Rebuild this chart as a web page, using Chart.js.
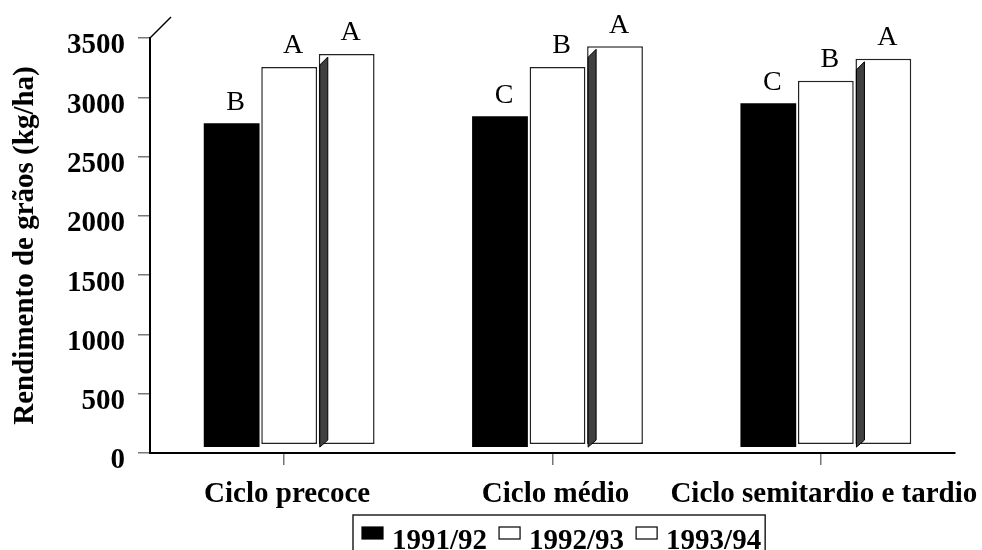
<!DOCTYPE html>
<html>
<head>
<meta charset="utf-8">
<script src="https://cdn.jsdelivr.net/npm/chart.js@4.4.1/dist/chart.umd.min.js"></script>
<style>
  html, body { margin: 0; padding: 0; background: #fff; }
  #wrap { width: 982px; height: 550px; }
</style>
</head>
<body>
<div id="wrap"><canvas id="chart"></canvas></div>
<script>
// values (kg/ha)
const categories = ['Ciclo precoce', 'Ciclo médio', 'Ciclo semitardio e tardio'];
const seasons = ['1991/92', '1992/93', '1993/94'];
const yield9192 = [2780, 2840, 2950];
const yield9293 = [3255, 3255, 3140];
const yield9394 = [3365, 3430, 3325];
// significance letters shown above the bars
const letters9192 = ['B', 'C', 'C'];
const letters9293 = ['A', 'B', 'B'];
const letters9394 = ['A', 'A', 'A'];
const yTicks = [0, 500, 1000, 1500, 2000, 2500, 3000, 3500];

const serif = '"Liberation Serif", "Times New Roman", serif';
Chart.defaults.font.family = serif;
Chart.defaults.color = '#000';

const letters = [letters9192, letters9293, letters9394];
const SHIFT = 5; // the old 3D chart sits a bit right of the ticks

// move the bars a few px right, like the original
const shiftBars = {
  id: 'shiftBars',
  afterDatasetsUpdate(chart) {
    chart.data.datasets.forEach((ds, i) => {
      chart.getDatasetMeta(i).data.forEach(bar => { bar.x += SHIFT; });
    });
  }
};

// dark side face on the last series + the back wall edge
const depthLook = {
  id: 'depthLook',
  afterDatasetsDraw(chart) {
    const ctx = chart.ctx;
    const area = chart.chartArea;
    ctx.save();
    chart.getDatasetMeta(2).data.forEach(bar => {
      const left = bar.x - bar.width / 2 + 1;
      const top = bar.y;
      const bottom = bar.base;
      ctx.beginPath();
      ctx.moveTo(left, top + 11);
      ctx.lineTo(left + 8, top + 3);
      ctx.lineTo(left + 8, bottom - 4);
      ctx.lineTo(left, bottom + 3);
      ctx.closePath();
      ctx.fillStyle = '#404040';
      ctx.fill();
      ctx.lineWidth = 1;
      ctx.strokeStyle = '#000';
      ctx.stroke();
    });

    ctx.beginPath();
    ctx.moveTo(area.left, area.top);
    ctx.lineTo(area.left + 21, area.top - 21);
    ctx.lineWidth = 1.5;
    ctx.strokeStyle = '#000';
    ctx.stroke();

    // letters
    ctx.font = '28px ' + serif;
    ctx.fillStyle = '#000';
    ctx.textAlign = 'center';
    ctx.textBaseline = 'middle';
    chart.data.datasets.forEach((ds, i) => {
      chart.getDatasetMeta(i).data.forEach((bar, j) => {
        ctx.fillText(letters[i][j], bar.x + 4, bar.y - 21);
      });
    });
    ctx.restore();
  }
};

// boxed legend under the axis, as in the figure
const boxLegend = {
  id: 'boxLegend',
  afterDraw(chart) {
    const ctx = chart.ctx;
    ctx.save();
    ctx.font = 'bold 29px ' + serif;
    ctx.textBaseline = 'alphabetic';
    ctx.textAlign = 'left';
    let x = 353;
    const top = 515;
    const start = x;
    x += 9;
    chart.data.datasets.forEach((ds, i) => {
      ctx.fillStyle = ds.backgroundColor;
      ctx.fillRect(x, 527, 21, 12);
      ctx.lineWidth = 1.2;
      ctx.strokeStyle = '#000';
      ctx.strokeRect(x, 527, 21, 12);
      x += 30;
      ctx.fillStyle = '#000';
      ctx.fillText(ds.label, x, 549);
      x += ctx.measureText(ds.label).width + 12;
    });
    const end = x - 8;
    ctx.lineWidth = 1.5;
    ctx.strokeStyle = '#222';
    ctx.strokeRect(start, top, end - start, 60);
    ctx.restore();
  }
};

const ctx = document.getElementById('chart');

new Chart(ctx, {
  type: 'bar',
  data: {
    labels: categories,
    datasets: [
      {
        label: seasons[0],
        data: yield9192,
        base: 50,
        backgroundColor: '#000',
        borderColor: '#000',
        borderWidth: 0,
        barPercentage: 0.97,
        categoryPercentage: 0.643
      },
      {
        label: seasons[1],
        data: yield9293,
        base: 75,
        backgroundColor: '#fff',
        borderColor: '#222',
        borderWidth: 1.5,
        borderSkipped: false,
        barPercentage: 0.97,
        categoryPercentage: 0.643
      },
      {
        label: seasons[2],
        data: yield9394,
        base: 75,
        backgroundColor: '#fff',
        borderColor: '#222',
        borderWidth: 1.5,
        borderSkipped: false,
        barPercentage: 0.97,
        categoryPercentage: 0.643
      }
    ]
  },
  options: {
    responsive: true,
    maintainAspectRatio: false,
    animation: false,
    layout: { padding: { top: 38, right: 27, left: 0, bottom: 0 } },
    plugins: {
      legend: { display: false },
      tooltip: { enabled: false }
    },
    scales: {
      x: {
        offset: true,
        grid: { offset: false, drawOnChartArea: false, tickLength: 12, color: '#777', lineWidth: 1.5 },
        border: { display: true, color: '#000', width: 2 },
        ticks: {
          color: '#000',
          font: { size: 29, weight: 'bold' },
          maxRotation: 0,
          autoSkip: false,
          padding: 12,
          labelOffset: 3
        },
        afterFit(scale) {
          scale.height = 97;
          // long last label may overhang, don't let it squeeze the plot
          scale.paddingLeft = 0;
          scale.paddingRight = 0;
        }
      },
      y: {
        min: 0,
        max: 3500,
        afterBuildTicks(scale) { scale.ticks = yTicks.map(v => ({ value: v })); },
        grid: { drawOnChartArea: false, tickLength: 12, color: '#777', lineWidth: 1.5 },
        border: { display: true, color: '#000', width: 2 },
        ticks: {
          color: '#000',
          font: { size: 29, weight: 'bold' },
          padding: 13,
          labelOffset: 8,
          callback: v => String(v)
        },
        title: {
          display: true,
          text: 'Rendimento de grãos (kg/ha)',
          color: '#000',
          font: { size: 29, weight: 'bold' },
          padding: { top: 8, bottom: 0 }
        },
        afterFit(scale) { scale.width = 150; }
      }
    }
  },
  plugins: [shiftBars, depthLook, boxLegend]
});
</script>
</body>
</html>
